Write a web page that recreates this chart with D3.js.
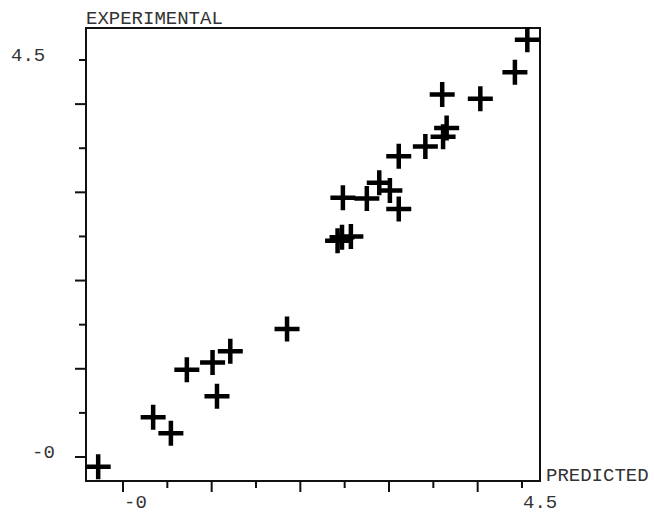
<!DOCTYPE html>
<html>
<head>
<meta charset="utf-8">
<script src="https://cdn.jsdelivr.net/npm/d3@7"></script>
<style>
  html, body { margin: 0; padding: 0; background: #fff; }
  svg text { font-family: "Liberation Mono", "DejaVu Sans Mono", monospace; fill: #333; }
</style>
</head>
<body>
<svg id="chart" width="654" height="514"></svg>
<script>
// ---- data ----
const predicted = [-0.28, 0.34, 0.54, 0.72, 1.01, 1.06, 1.21, 1.85, 2.42, 2.47, 2.57, 2.48, 2.75, 2.89, 3.01, 3.11, 3.11, 3.41, 3.61, 3.65, 3.60, 4.03, 4.42, 4.56];
const experimental = [-0.11, 0.45, 0.27, 0.99, 1.07, 0.69, 1.20, 1.45, 2.45, 2.49, 2.50, 2.94, 2.93, 3.11, 3.02, 2.81, 3.41, 3.52, 3.63, 3.73, 4.11, 4.06, 4.36, 4.73];
const tickValues = [0, 0.5, 1, 1.5, 2, 2.5, 3, 3.5, 4, 4.5];
const tickLabels = [{ v: 0, t: "-0" }, { v: 4.5, t: "4.5" }];
const xTitle = "PREDICTED";
const yTitle = "EXPERIMENTAL";

// ---- layout ----
const frame = { left: 86, right: 540, top: 28, bottom: 481 };
const x = d3.scaleLinear().domain([0, 4.5]).range([123, 522]);
const y = d3.scaleLinear().domain([0, 4.5]).range([457, 60]);

const svg = d3.select("#chart");

// ticks
const isMajor = v => Math.abs(v - Math.round(v)) < 1e-9;
svg.append("g").selectAll("line").data(tickValues).join("line")
  .attr("x1", d => x(d)).attr("x2", d => x(d))
  .attr("y1", frame.bottom).attr("y2", d => frame.bottom + (isMajor(d) ? 11 : 7))
  .attr("stroke", "#111").attr("stroke-width", 2);
svg.append("g").selectAll("line").data(tickValues).join("line")
  .attr("y1", d => y(d)).attr("y2", d => y(d))
  .attr("x1", frame.left).attr("x2", d => frame.left - (isMajor(d) ? 11 : 7))
  .attr("stroke", "#111").attr("stroke-width", 2);

// frame
svg.append("rect")
  .attr("x", frame.left).attr("y", frame.top)
  .attr("width", frame.right - frame.left).attr("height", frame.bottom - frame.top)
  .attr("fill", "none").attr("stroke", "#111").attr("stroke-width", 2);

// tick labels
const fs = 19;
svg.append("g").selectAll("text").data(tickLabels).join("text")
  .attr("x", d => x(d.v) + 1).attr("y", 508)
  .attr("font-size", fs).attr("text-anchor", "start")
  .text(d => d.t);
const yLabelLeft = { "4.5": 11, "-0": 32 };
svg.append("g").selectAll("text").data(tickLabels).join("text")
  .attr("x", d => yLabelLeft[d.t]).attr("y", d => y(d.v) + 1)
  .attr("font-size", fs).attr("text-anchor", "start")
  .text(d => d.t);

// titles
svg.append("text").attr("x", frame.left).attr("y", 24).attr("font-size", fs).text(yTitle);
svg.append("text").attr("x", frame.right + 6).attr("y", 481).attr("font-size", fs).text(xTitle);

// points as plus marks
const pts = predicted.map((p, i) => ({ p, e: experimental[i] }));
const h = 12.5;
const g = svg.append("g").attr("stroke", "#000").attr("stroke-width", 4.5);
g.selectAll("path").data(pts).join("path")
  .attr("d", d => {
    const cx = x(d.p), cy = y(d.e);
    return `M${cx - h},${cy}H${cx + h}M${cx},${cy - h}V${cy + h}`;
  })
  .attr("fill", "none");
</script>
</body>
</html>
